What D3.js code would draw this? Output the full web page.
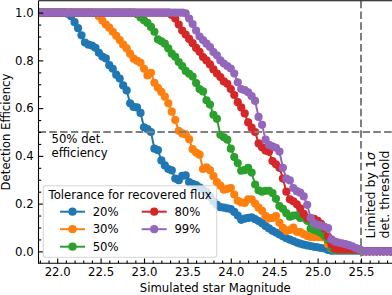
<!DOCTYPE html>
<html><head><meta charset="utf-8">
<script src="https://cdn.jsdelivr.net/npm/d3@7"></script>
<style>
body{margin:0;background:#fff}
svg{display:block}
text{font-family:"DejaVu Sans",sans-serif;fill:#000}
</style>
</head><body>
<svg id="c" width="392" height="295"></svg>
<script>
const magnitudes = [21.80,21.84,21.88,21.92,21.96,22.00,22.04,22.08,22.12,22.16,22.20,22.24,22.28,22.32,22.36,22.40,22.44,22.48,22.52,22.56,22.60,22.64,22.68,22.72,22.76,22.80,22.84,22.88,22.92,22.96,23.00,23.04,23.08,23.12,23.16,23.20,23.24,23.28,23.32,23.36,23.40,23.44,23.48,23.52,23.56,23.60,23.64,23.68,23.72,23.76,23.80,23.84,23.88,23.92,23.96,24.00,24.04,24.08,24.12,24.16,24.20,24.24,24.28,24.32,24.36,24.40,24.44,24.48,24.52,24.56,24.60,24.64,24.68,24.72,24.76,24.80,24.84,24.88,24.92,24.96,25.00,25.04,25.08,25.12,25.16,25.20,25.24,25.28,25.32,25.36,25.40,25.44,25.48,25.52,25.56,25.60,25.64,25.68,25.72,25.76,25.80,25.84];

const tol20 = [1,1,1,1,1,1,1,1,0.995,0.985,0.96,0.935,0.905,0.875,0.866,0.862,0.853,0.832,0.816,0.808,0.78,0.765,0.74,0.724,0.695,0.674,0.62,0.605,0.603,0.58,0.52,0.512,0.50,0.43,0.424,0.381,0.36,0.345,0.339,0.305,0.298,0.316,0.318,0.29,0.283,0.278,0.268,0.258,0.248,0.228,0.21,0.195,0.185,0.183,0.18,0.177,0.165,0.15,0.132,0.137,0.14,0.142,0.135,0.127,0.118,0.106,0.096,0.086,0.079,0.071,0.063,0.055,0.049,0.043,0.037,0.032,0.028,0.025,0.022,0.019,0.017,0.014,0.012,0.006,0.003,0.003,0.003,0.003,0.003,0.003,0.003,0.003,0.003,0,0,0,0,0,0,0,0,0];

const tol30 = [1,1,1,1,1,1,1,1,1,1,1,1,1,1,1,1,0.998,0.985,0.967,0.95,0.937,0.92,0.903,0.885,0.866,0.85,0.828,0.807,0.798,0.79,0.765,0.737,0.748,0.706,0.685,0.668,0.648,0.62,0.585,0.55,0.505,0.494,0.49,0.47,0.428,0.414,0.405,0.345,0.352,0.34,0.315,0.29,0.275,0.258,0.262,0.265,0.238,0.212,0.205,0.203,0.218,0.218,0.2,0.183,0.17,0.148,0.138,0.14,0.148,0.12,0.098,0.085,0.09,0.1,0.082,0.081,0.072,0.064,0.06,0.06,0.06,0.06,0.057,0.03,0.012,0.008,0.008,0.008,0.008,0.008,0.008,0.008,0.008,0,0,0,0,0,0,0,0,0];

const tol50 = [1,1,1,1,1,1,1,1,1,1,1,1,1,1,1,1,1,1,1,1,1,1,1,1,1,1,1,1,0.993,0.98,0.968,0.957,0.94,0.92,0.888,0.88,0.87,0.85,0.828,0.815,0.793,0.776,0.756,0.744,0.732,0.705,0.68,0.67,0.633,0.615,0.572,0.555,0.488,0.478,0.468,0.43,0.395,0.37,0.338,0.34,0.35,0.33,0.28,0.256,0.25,0.254,0.254,0.244,0.22,0.19,0.178,0.16,0.145,0.15,0.151,0.14,0.142,0.128,0.095,0.09,0.084,0.077,0.064,0.048,0.014,0.007,0.007,0.007,0.007,0.007,0.007,0.007,0.007,0,0,0,0,0,0,0,0,0];

const tol80 = [1,1,1,1,1,1,1,1,1,1,1,1,1,1,1,1,1,1,1,1,1,1,1,1,1,1,1,1,1,1,1,1,1,1,1,1,1,1,0.99,0.975,0.95,0.925,0.908,0.89,0.872,0.852,0.836,0.814,0.8,0.783,0.762,0.745,0.73,0.712,0.702,0.68,0.655,0.625,0.603,0.578,0.54,0.518,0.5,0.452,0.436,0.422,0.417,0.378,0.365,0.35,0.305,0.25,0.218,0.21,0.197,0.18,0.157,0.14,0.137,0.136,0.128,0.115,0.095,0.062,0.03,0.011,0.008,0.008,0.008,0.008,0.008,0.008,0.008,0,0,0,0,0,0,0,0,0];

const tol99 = [1,1,1,1,1,1,1,1,1,1,1,1,1,1,1,1,1,1,1,1,1,1,1,1,1,1,1,1,1,1,1,1,1,1,1,1,1,1,1,1,1,1,0.997,0.975,0.952,0.925,0.9,0.885,0.87,0.856,0.835,0.821,0.8,0.787,0.776,0.766,0.745,0.708,0.68,0.675,0.666,0.65,0.63,0.563,0.53,0.468,0.446,0.44,0.434,0.418,0.35,0.305,0.297,0.265,0.252,0.246,0.23,0.195,0.14,0.118,0.111,0.108,0.103,0.097,0.05,0.041,0.037,0.034,0.03,0.026,0.021,0.014,0.009,0,0,0,0,0,0,0,0,0];

const seriesLabels = ["20%","30%","50%","80%","99%"];
const seriesValues = [tol20, tol30, tol50, tol80, tol99];
const seriesColors = ["#1f77b4","#ff7f0e","#2ca02c","#d62728","#9467bd"];
const xTickValues = [22.0,22.5,23.0,23.5,24.0,24.5,25.0,25.5];
const xMinorValues = [21.8,21.9,22.1,22.2,22.3,22.4,22.6,22.7,22.8,22.9,23.1,23.2,23.3,23.4,23.6,23.7,23.8,23.9,24.1,24.2,24.3,24.4,24.6,24.7,24.8,24.9,25.1,25.2,25.3,25.4,25.6,25.7,25.8];
const yTickValues = [0.0,0.2,0.4,0.6,0.8,1.0];
const yMinorValues = [0.05,0.1,0.15,0.25,0.3,0.35,0.45,0.5,0.55,0.65,0.7,0.75,0.85,0.9,0.95];
const halfLevel = 0.5;
const limitMag = 25.5;

const FS = 11.7;
const L = 38.5, R = 392, T = 0.7, B = 263.3;
const svg = d3.select("#c");
const x = d3.scaleLinear().domain([21.7846, 25.857]).range([L, R]);
const y = d3.scaleLinear().domain([-0.05, 1.05]).range([B, T]);

svg.append("defs").append("clipPath").attr("id","clip")
  .append("rect").attr("x",L).attr("y",T).attr("width",R-L).attr("height",B-T);

const plot = svg.append("g").attr("clip-path","url(#clip)");
const line = d3.line().x((d,i)=>x(magnitudes[i])).y(d=>y(d));
seriesValues.forEach((vals, k) => {
  const g = plot.append("g");
  g.append("path").datum(vals).attr("d", line)
    .attr("fill","none").attr("stroke",seriesColors[k]).attr("stroke-width",2);
  g.selectAll("circle").data(vals).join("circle")
    .attr("cx",(d,i)=>x(magnitudes[i])).attr("cy",d=>y(d)).attr("r",4.1)
    .attr("fill",seriesColors[k]);
});

// dashed reference lines
plot.append("line").attr("x1",L).attr("x2",R).attr("y1",y(halfLevel)).attr("y2",y(halfLevel))
  .attr("stroke","#808080").attr("stroke-width",2).attr("stroke-dasharray","7.5,3.3");
plot.append("line").attr("x1",x(limitMag)).attr("x2",x(limitMag)).attr("y1",T).attr("y2",B)
  .attr("stroke","#808080").attr("stroke-width",2).attr("stroke-dasharray","7.5,3.3");

// axes
const xAxis = svg.append("g").attr("transform",`translate(0,${B})`)
  .call(d3.axisBottom(x).tickValues(xTickValues).tickFormat(d3.format(".1f")).tickSizeInner(-4.8).tickSizeOuter(0).tickPadding(4.8));
const xMinor = svg.append("g").attr("transform",`translate(0,${B})`)
  .call(d3.axisBottom(x).tickValues(xMinorValues).tickFormat("").tickSizeInner(-2.7).tickSizeOuter(0));
const yAxis = svg.append("g").attr("transform",`translate(${L},0)`)
  .call(d3.axisLeft(y).tickValues(yTickValues).tickFormat(d3.format(".1f")).tickSizeInner(-4.8).tickSizeOuter(0).tickPadding(4.8));
const yMinor = svg.append("g").attr("transform",`translate(${L},0)`)
  .call(d3.axisLeft(y).tickValues(yMinorValues).tickFormat("").tickSizeInner(-2.7).tickSizeOuter(0));
[xAxis,xMinor,yAxis,yMinor].forEach(a=>{
  a.select(".domain").remove();
  a.selectAll("line").attr("stroke","#000").attr("stroke-width",1.1);
  a.selectAll("text").attr("font-family","DejaVu Sans").attr("font-size",FS).attr("fill","#000");
});

// spines
svg.append("path").attr("d",`M${L},${T}H${R+2}M${L},${T}V${B}H${R+2}`)
  .attr("fill","none").attr("stroke","#000").attr("stroke-width",1.1);

// labels
svg.append("text").attr("x",(L+R)/2).attr("y",291.5).attr("text-anchor","middle")
  .attr("font-size",FS).text("Simulated star Magnitude");
svg.append("text").attr("transform",`translate(10,${(T+B)/2}) rotate(-90)`).attr("text-anchor","middle")
  .attr("font-size",FS).text("Detection Efficiency");

svg.append("text").attr("x",51.5).attr("y",142.5).attr("font-size",FS).text("50% det.");
svg.append("text").attr("x",51.5).attr("y",156.5).attr("font-size",FS).text("efficiency");

const VFS = 12.6;
const vt1 = svg.append("text").attr("transform",`translate(374.5,238.5) rotate(-90)`).attr("font-size",VFS);
vt1.append("tspan").text("Limited by 1");
vt1.append("tspan").attr("font-style","italic").text("σ");
svg.append("text").attr("transform",`translate(388.8,238.5) rotate(-90)`).attr("font-size",VFS).text("det. threshold");

// legend
const lg = svg.append("g");
lg.append("rect").attr("x",43.3).attr("y",185.7).attr("width",173.4).attr("height",71.6).attr("rx",2.5)
  .attr("fill","#fff").attr("fill-opacity",0.8).attr("stroke","#cccccc").attr("stroke-opacity",0.8).attr("stroke-width",1.1);
lg.append("text").attr("x",48.5).attr("y",199.2).attr("font-size",FS).text("Tolerance for recovered flux");
const colX = [60, 141.7];
const rowY = [211.7, 229.2, 246.7];
seriesLabels.forEach((lab,k)=>{
  const c = k < 3 ? 0 : 1, r = k < 3 ? k : k-3;
  const x0 = colX[c], yy = rowY[r];
  lg.append("line").attr("x1",x0).attr("x2",x0+25).attr("y1",yy).attr("y2",yy)
    .attr("stroke",seriesColors[k]).attr("stroke-width",2);
  lg.append("circle").attr("cx",x0+12.5).attr("cy",yy).attr("r",4.1).attr("fill",seriesColors[k]);
  lg.append("text").attr("x",x0+32.7).attr("y",yy+4.2).attr("font-size",FS).text(lab);
});
</script>
</body></html>
